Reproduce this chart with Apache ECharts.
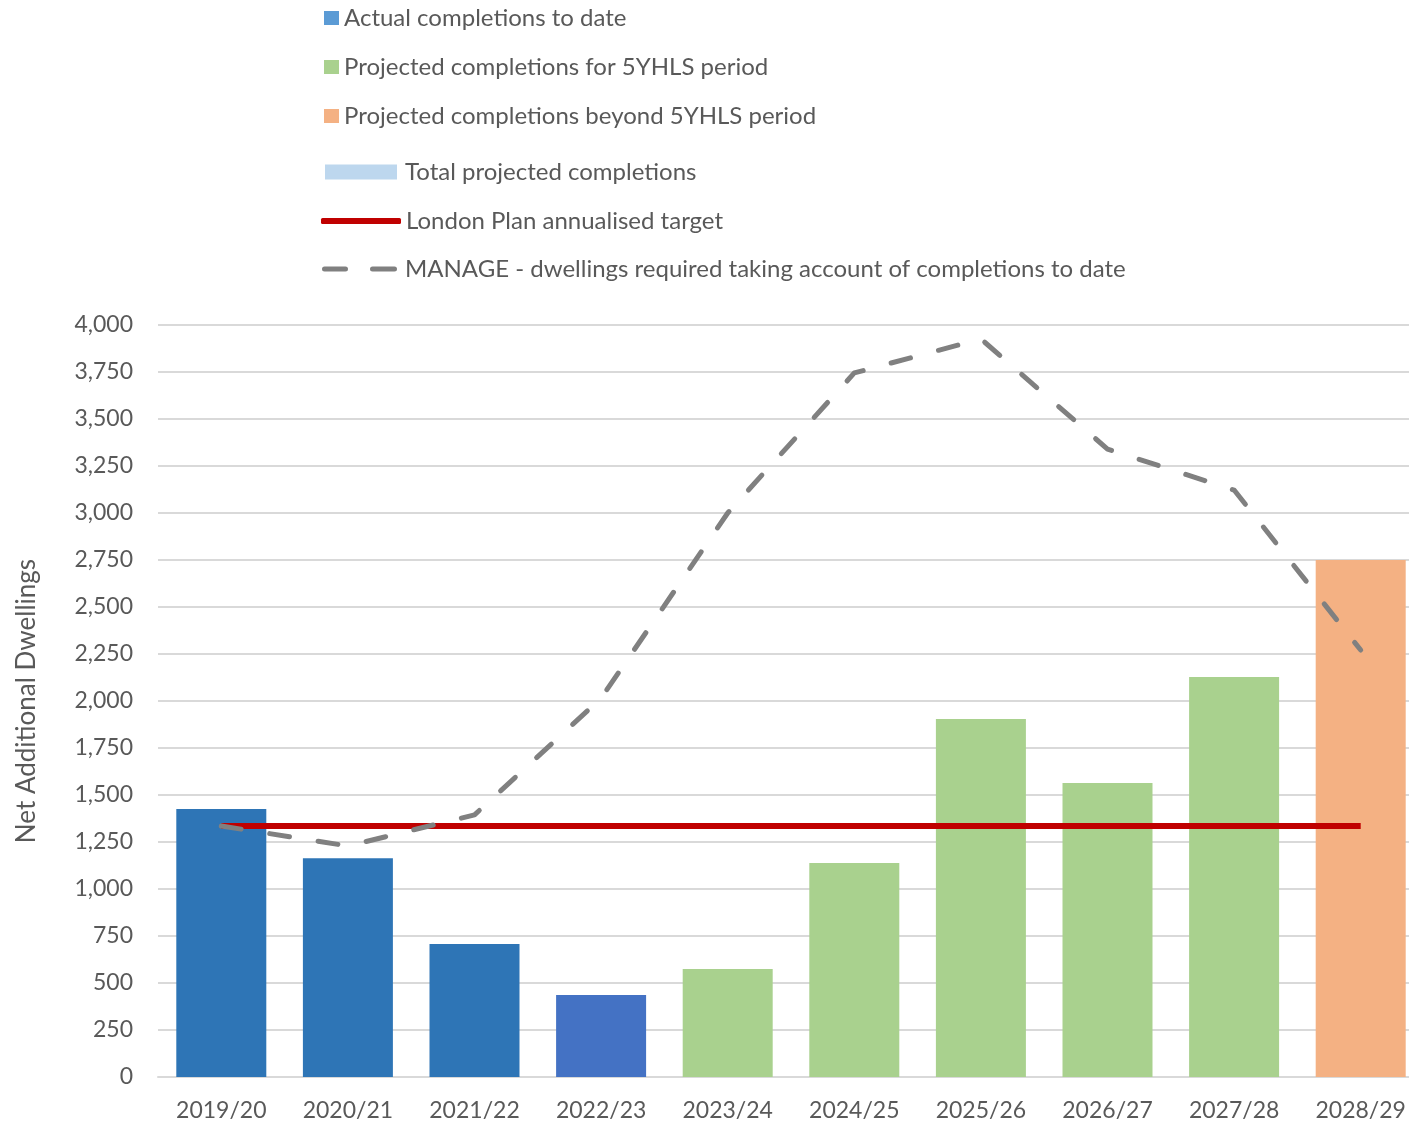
<!DOCTYPE html>
<html>
<head>
<meta charset="utf-8">
<title>Net Additional Dwellings</title>
<script src="https://cdn.jsdelivr.net/npm/echarts@6/dist/echarts.min.js"></script>
<style>
  html, body { margin: 0; padding: 0; background: #ffffff; overflow: hidden; }
  /* the plot runs slightly past the right edge of the window */
  #chart { width: 1424px; height: 1129px; }
</style>
</head>
<body>
<div id="chart"></div>
<script>
// Financial years on the category axis
const years = ['2019/20', '2020/21', '2021/22', '2022/23', '2023/24',
               '2024/25', '2025/26', '2026/27', '2027/28', '2028/29'];

// Completions (net additional dwellings) per year
const actualCompletions   = [1425, 1163, 707, 436, null, null, null, null, null, null];
const projected5YHLS      = [null, null, null, null, 574, 1138, 1904, 1564, 2128, null];
const projectedBeyond     = [null, null, null, null, null, null, null, null, null, 2750];
const totalProjected      = [];

// London Plan annualised target and the MANAGE requirement
const londonPlanTarget    = [1335, 1335, 1335, 1335, 1335, 1335, 1335, 1335, 1335, 1335];
const manageRequirement   = [1335, 1229, 1394, 2015, 3000, 3745, 3926, 3340, 3122, 2271];

// Value axis ticks
const yMin = 0, yMax = 4000, yStep = 250;

const FONT = 'Lato';
const TEXT = '#595959';

const names = {
  actual: 'Actual completions to date',
  five: 'Projected completions for 5YHLS period',
  beyond: 'Projected completions beyond 5YHLS period',
  total: 'Total projected completions',
  target: 'London Plan annualised target',
  manage: 'MANAGE - dwellings required taking account of completions to date'
};

function legendBox(name, left, centerY, opts) {
  return Object.assign({
    show: true,
    selectedMode: false,
    orient: 'horizontal',
    left: left,
    top: centerY - 13,
    padding: 0,
    itemGap: 0,
    textStyle: { color: TEXT, fontFamily: FONT, fontSize: 24, lineHeight: 26 }
  }, opts, { data: [Object.assign({ name: name }, opts.item || {})] });
}

const legends = [
  legendBox(names.actual, 324, 18, { itemWidth: 15, itemHeight: 14,
    item: { icon: 'rect', itemStyle: { color: '#5B9BD5' } } }),
  legendBox(names.five, 324, 67, { itemWidth: 15, itemHeight: 14,
    item: { icon: 'rect', itemStyle: { color: '#A9D18E' } } }),
  legendBox(names.beyond, 324, 116, { itemWidth: 15, itemHeight: 14,
    item: { icon: 'rect', itemStyle: { color: '#F4B183' } } }),
  legendBox(names.total, 325, 172, { itemWidth: 72, itemHeight: 15,
    item: { icon: 'rect', itemStyle: { color: '#BDD7EE' },
            textStyle: { padding: [0, 0, 0, 3] } } }),
  legendBox(names.target, 321, 221, { itemWidth: 80, itemHeight: 6,
    item: { icon: 'roundRect', itemStyle: { color: '#C00000' } } }),
  legendBox(names.manage, 322, 269, { itemWidth: 75, itemHeight: 5,
    item: { icon: 'path://M2.5,0 H23.5 A2.5,2.5 0 0 1 23.5,5 H2.5 A2.5,2.5 0 0 1 2.5,0 Z M50.5,0 H72.5 A2.5,2.5 0 0 1 72.5,5 H50.5 A2.5,2.5 0 0 1 50.5,0 Z',
            itemStyle: { color: '#808080' },
            textStyle: { padding: [0, 0, 0, 3] } } })
];

const chart = echarts.init(document.getElementById('chart'), null, { renderer: 'canvas' });

chart.setOption({
  animation: false,
  backgroundColor: '#ffffff',
  legend: legends,
  grid: { left: 158, top: 325, right: 0, bottom: 52, containLabel: false },
  xAxis: {
    type: 'category',
    data: years,
    boundaryGap: true,
    axisLine: { show: true, lineStyle: { color: '#D9D9D9', width: 2 } },
    axisTick: { show: false },
    axisLabel: { color: TEXT, fontFamily: FONT, fontSize: 23, margin: 22, interval: 0 }
  },
  yAxis: {
    type: 'value',
    min: yMin, max: yMax, interval: yStep,
    name: 'Net Additional Dwellings',
    nameLocation: 'middle',
    nameGap: 118,
    nameRotate: 90,
    nameTextStyle: { color: TEXT, fontFamily: FONT, fontSize: 26 },
    axisLine: { show: false },
    axisTick: { show: false },
    splitLine: { show: true, lineStyle: { color: '#D9D9D9', width: 2 } },
    axisLabel: {
      color: TEXT, fontFamily: FONT, fontSize: 23, margin: 25,
      formatter: v => v.toLocaleString('en-GB')
    }
  },
  series: [
    {
      name: names.actual, type: 'bar', stack: 'completions', barWidth: 90,
      itemStyle: { color: '#2E75B6' },
      data: actualCompletions.map((v, i) =>
        years[i] === '2022/23' ? { value: v, itemStyle: { color: '#4472C4' } } : v)
    },
    {
      name: names.five, type: 'bar', stack: 'completions', barWidth: 90,
      itemStyle: { color: '#A9D18E' }, data: projected5YHLS
    },
    {
      name: names.beyond, type: 'bar', stack: 'completions', barWidth: 90,
      itemStyle: { color: '#F4B183' }, data: projectedBeyond
    },
    {
      name: names.total, type: 'bar', stack: 'completions', barWidth: 90,
      itemStyle: { color: '#BDD7EE' }, data: totalProjected
    },
    {
      name: names.target, type: 'line', symbol: 'none', z: 3,
      lineStyle: { color: '#C00000', width: 6 },
      itemStyle: { color: '#C00000' },
      data: londonPlanTarget
    },
    {
      name: names.manage, type: 'line', symbol: 'none', z: 4,
      lineStyle: { color: '#808080', width: 5, type: [20, 29], cap: 'round', join: 'round' },
      itemStyle: { color: '#808080' },
      data: manageRequirement
    }
  ]
});
</script>
</body>
</html>
